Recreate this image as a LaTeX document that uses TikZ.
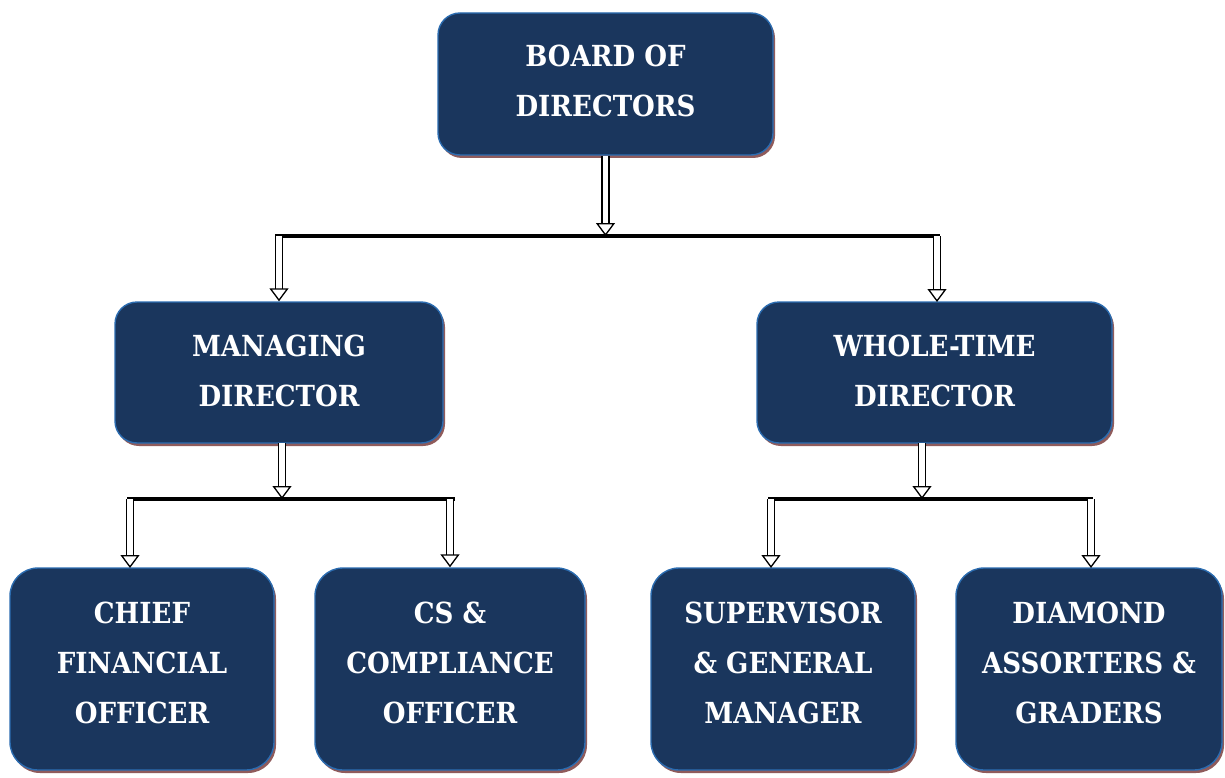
\documentclass[tikz,border=0pt]{standalone}
\usepackage{fontspec}
\newfontfamily\boxfont{DejaVu Serif Condensed}
\usetikzlibrary{arrows.meta,shadows}
\definecolor{boxfill}{HTML}{1A365D}
\definecolor{boxline}{HTML}{2B6CB0}
\definecolor{shadowc}{HTML}{6A2424}
\tikzset{
  orgbox/.style={draw=boxline, line width=1.4pt, fill=boxfill, rounded corners=22pt,
    text=white, font=\boxfont\bfseries\fontsize{29}{50}\selectfont, align=center, inner sep=0pt,
    drop shadow={shadow xshift=2pt, shadow yshift=-3pt, fill=shadowc, opacity=0.75}},
  lowbox/.style={orgbox, rounded corners=28pt, minimum height=202pt},
  bus/.style={line width=3.2pt, black},
  hollow/.style={double=white, double distance=5.5pt, line width=1.3pt,
    -{Triangle[open, length=13pt, width=19pt]}}
}
\begin{document}
\begin{tikzpicture}[x=1pt,y=-1pt]
\useasboundingbox (0,0) rectangle (1225,778);
\node[orgbox, minimum width=335pt, minimum height=142pt] (board) at (605.5,84) {BOARD OF\\DIRECTORS\\[-44pt]};
\node[orgbox, minimum width=328pt, minimum height=141pt] (md) at (279,372.5) {MANAGING\\DIRECTOR\\[-46pt]};
\node[orgbox, minimum width=355pt, minimum height=141pt] (wtd) at (934.5,372.5) {WHOLE-TIME\\DIRECTOR\\[-46pt]};
\node[lowbox, minimum width=264pt] (cfo) at (142,669) {CHIEF\\FINANCIAL\\OFFICER\\[-38pt]};
\node[lowbox, minimum width=270pt] (cs) at (450,669) {CS \&\\COMPLIANCE\\OFFICER\\[-38pt]};
\node[lowbox, minimum width=264pt] (sup) at (783,669) {SUPERVISOR\\\& GENERAL\\MANAGER\\[-38pt]};
\node[lowbox, minimum width=266pt] (dia) at (1089,669) {DIAMOND\\ASSORTERS \&\\GRADERS\\[-38pt]};
% buses
\coordinate (t1) at (275,236);
\coordinate (t2) at (940,236);
\coordinate (l1) at (127,499);
\coordinate (l2) at (455,499);
\coordinate (r1) at (768,499);
\coordinate (r2) at (1093,499);
\draw[bus] (t1) -- (t2);
\draw[bus] (l1) -- (l2);
\draw[bus] (r1) -- (r2);
% arrows
\draw[hollow] (board.south) -- (board.south |- t1);
\draw[hollow] (md.north |- t1) -- (md.north);
\draw[hollow] (937,236) -- (937,302);
\draw[hollow] (282,443) -- (282,499);
\draw[hollow] (130,499) -- (130,568);
\draw[hollow] (cs.north |- l1) -- (cs.north);
\draw[hollow] (922,443) -- (922,499);
\draw[hollow] (771,499) -- (771,568);
\draw[hollow] (1091,499) -- (1091,568);
\end{tikzpicture}
\end{document}
